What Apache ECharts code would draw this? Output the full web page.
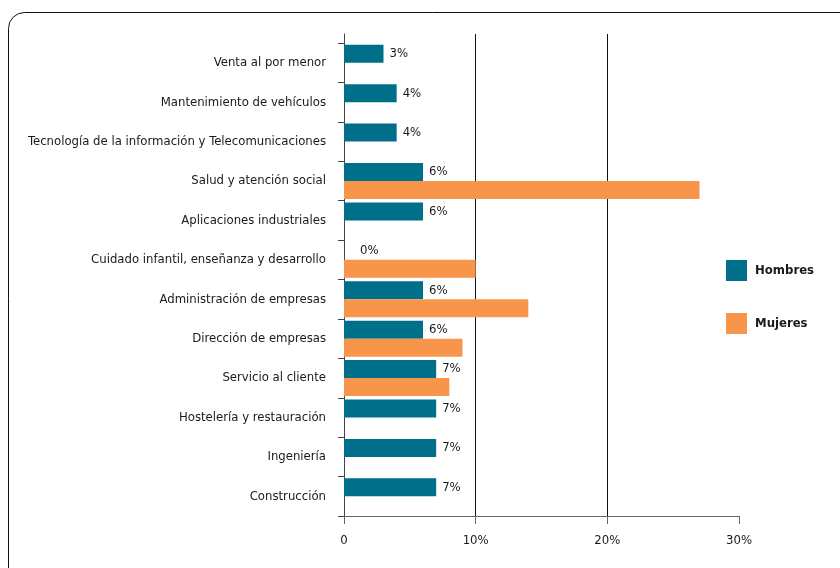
<!DOCTYPE html>
<html>
<head>
<meta charset="utf-8">
<script src="https://cdn.jsdelivr.net/npm/echarts@6/dist/echarts.min.js"></script>
<style>html,body{margin:0;padding:0;background:#fff;}#c{width:840px;height:568px;}</style>
</head>
<body>
<div id="c"></div>
<script>
const categories = ['Venta al por menor','Mantenimiento de vehículos','Tecnología de la información y Telecomunicaciones','Salud y atención social','Aplicaciones industriales','Cuidado infantil, enseñanza y desarrollo','Administración de empresas','Dirección de empresas','Servicio al cliente','Hostelería y restauración','Ingeniería','Construcción'];
const hombres = [3,4,4,6,6,0,6,6,7,7,7,7];
const mujeres = [null,null,null,27,null,10,14,9,8,null,null,null];
const xTicks = [0,10,20,30];

const FONT = '"DejaVu Sans Condensed","DejaVu Sans",sans-serif';
const chart = echarts.init(document.getElementById('c'), null, {renderer:'canvas'});
chart.setOption({
  animation:false,
  backgroundColor:'#fff',
  graphic:[{type:'rect',shape:{x:8.5,y:12.5,width:900,height:620,r:16},style:{fill:'none',stroke:'#111',lineWidth:1},z:-10}],
  legend:{orient:'vertical',left:726,top:260,padding:0,itemWidth:21,itemHeight:21,itemGap:32,
    icon:'rect',textStyle:{fontFamily:FONT,fontSize:13,fontWeight:'bold',color:'#1a1a1a',padding:[0,0,0,3]},
    data:['Hombres','Mujeres']},
  grid:[{left:344,right:101,top:43,bottom:52},{left:344,right:101,top:34,bottom:52}],
  xAxis:[
    {gridIndex:0,type:'value',min:0,max:30,interval:10,
     axisLine:{show:true,lineStyle:{color:'#666',width:1}},
     axisTick:{show:true,length:8,lineStyle:{color:'#666'}},
     axisLabel:{margin:18,fontFamily:FONT,fontSize:13,color:'#1a1a1a',formatter:v=>v===0?'0':v+'%'},
     splitLine:{show:false}},
    {gridIndex:1,type:'value',min:0,max:30,interval:10,
     axisLine:{show:false},axisTick:{show:false},axisLabel:{show:false},
     splitLine:{show:true,showMinLine:false,showMaxLine:false,lineStyle:{color:'#111',width:1}}}
  ],
  yAxis:[
    {gridIndex:0,type:'category',inverse:true,data:categories,
     axisLine:{show:true,lineStyle:{color:'#444'}},
     axisTick:{show:true,length:6,lineStyle:{color:'#444'}},
     axisLabel:{margin:18,fontFamily:FONT,fontSize:13,color:'#1a1a1a'}},
    {gridIndex:1,type:'value',min:0,max:1,
     axisLine:{show:true,lineStyle:{color:'#444'}},axisTick:{show:false},axisLabel:{show:false},splitLine:{show:false}}
  ],
  series:[
    {name:'Hombres',type:'bar',xAxisIndex:0,yAxisIndex:0,barWidth:18,barGap:'0%',
     itemStyle:{color:'#006f8a'},
     data:hombres.map(v=>v===0?{value:v,label:{distance:16}}:v),
     label:{show:true,position:'right',distance:6,fontFamily:FONT,fontSize:13,color:'#1a1a1a',formatter:'{c}%'}},
    {name:'Mujeres',type:'bar',xAxisIndex:0,yAxisIndex:0,barWidth:18,barGap:'0%',
     itemStyle:{color:'#f7964a'},data:mujeres}
  ]
});
</script>
</body>
</html>
